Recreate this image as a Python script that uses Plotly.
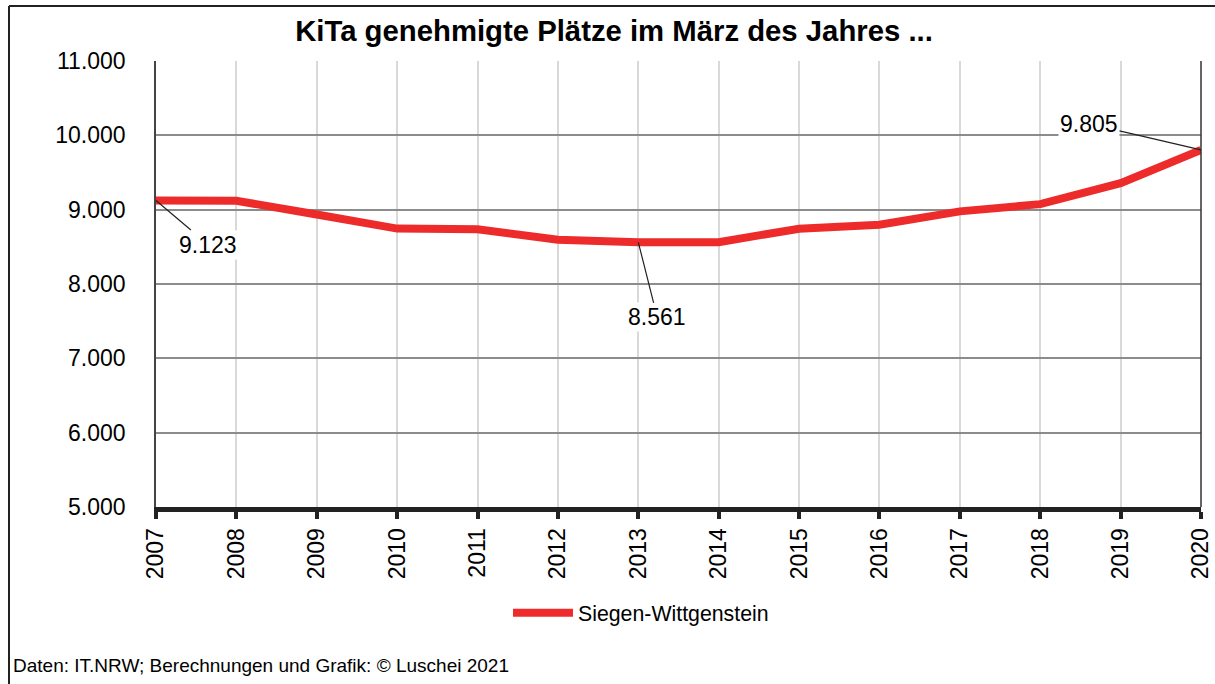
import plotly.graph_objects as go

years = [2007, 2008, 2009, 2010, 2011, 2012, 2013, 2014, 2015, 2016, 2017, 2018, 2019, 2020]
places = [9123, 9120, 8935, 8745, 8735, 8596, 8561, 8563, 8744, 8798, 8977, 9074, 9356, 9805]
series_name = "Siegen-Wittgenstein"
title_text = "KiTa genehmigte Plätze im März des Jahres ..."
source_text = "Daten: IT.NRW; Berechnungen und Grafik: © Luschei 2021"
y_ticks = [5000, 6000, 7000, 8000, 9000, 10000, 11000]
y_tick_labels = ["5.000", "6.000", "7.000", "8.000", "9.000", "10.000", "11.000"]

def de_fmt(v):
    return f"{v:,}".replace(",", ".")

W, H = 1215, 684
L, R, T, B = 156, 14, 61, 177
pw, ph = W - L - R, H - T - B

def px_x(px):
    return (px - L) / pw

def px_y(py):
    return (H - B - py) / ph

FONT = "Liberation Sans, Arial, sans-serif"

fig = go.Figure()
fig.add_trace(go.Scatter(
    x=years, y=places, mode="lines", name=series_name,
    line=dict(color="#EE2B2B", width=8),
    cliponaxis=False,
))

# labelled points: first, minimum, last
i_min = places.index(min(places))
labels = [(0, 52, 44), (i_min, 19, 75), (len(places) - 1, -112, -26)]
annotations = []
for i, ax, ay in labels:
    annotations.append(dict(
        x=years[i], y=places[i], xref="x", yref="y",
        text=de_fmt(places[i]), showarrow=True, arrowhead=0, arrowwidth=1.2,
        arrowcolor="#222222", ax=ax, ay=ay, bgcolor="white",
        font=dict(size=23, color="black", family=FONT),
    ))
annotations.append(dict(
    x=px_x(11), y=px_y(665), xref="paper", yref="paper",
    xanchor="left", yanchor="middle", showarrow=False,
    text=source_text, font=dict(size=19, color="black", family=FONT),
))

shapes = [
    # outer frame (left & top)
    dict(type="line", xref="paper", yref="paper", x0=px_x(9), x1=px_x(9), y0=px_y(690), y1=px_y(6),
         line=dict(color="#222222", width=2)),
    dict(type="line", xref="paper", yref="paper", x0=px_x(9), x1=px_x(1220), y0=px_y(6), y1=px_y(6),
         line=dict(color="#222222", width=2)),
    # right plot border
    dict(type="line", xref="paper", yref="paper", x0=1, x1=1, y0=0, y1=1,
         line=dict(color="#333333", width=1.5)),
]

fig.update_layout(
    width=W, height=H,
    margin=dict(l=L, r=R, t=T, b=B, pad=0, autoexpand=False),
    paper_bgcolor="white", plot_bgcolor="white",
    font=dict(family=FONT, color="black"),
    title=dict(text="<b>" + title_text + "</b>", x=614 / W, xanchor="center",
               y=1 - 31 / H, yanchor="middle", font=dict(size=29.3, color="black", family=FONT)),
    showlegend=True,
    legend=dict(x=px_x(508), y=px_y(613), xanchor="left", yanchor="middle",
                orientation="h", font=dict(size=21.3, color="black", family=FONT),
                itemwidth=60, bgcolor="rgba(0,0,0,0)"),
    annotations=annotations,
    shapes=shapes,
)

fig.update_xaxes(
    range=[years[0], years[-1]], tickmode="array", tickvals=years,
    ticktext=[str(y) for y in years], tickangle=-90, automargin=False,
    showgrid=True, gridcolor="#D9D9D9", gridwidth=2,
    showline=True, linecolor="#222222", linewidth=5,
    ticks="outside", ticklen=7, tickwidth=4, tickcolor="#222222",
    tickfont=dict(size=23, color="black", family=FONT),
    zeroline=False,
)
fig.update_yaxes(
    range=[5000, 11000], tickmode="array", tickvals=y_ticks, ticktext=y_tick_labels,
    automargin=False,
    showgrid=True, gridcolor="#8C8C8C", gridwidth=2,
    showline=True, linecolor="#444444", linewidth=1.5,
    ticks="", ticklabelstandoff=24,
    tickfont=dict(size=23, color="black", family=FONT),
    zeroline=False,
)

fig.write_html(
    "out.html",
    config={"displayModeBar": False},
    post_script="document.body.style.margin='0';document.body.style.overflow='hidden';",
)
